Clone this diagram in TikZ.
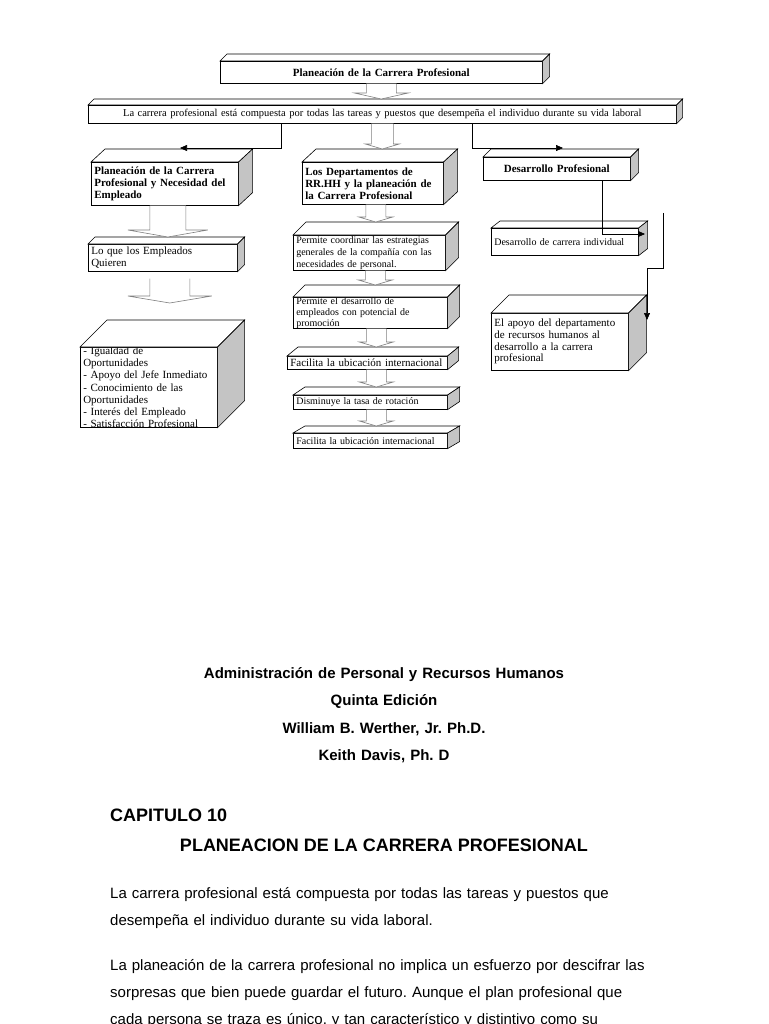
\documentclass[tikz,border=0pt]{standalone}
\usepackage{fontspec}
\setmainfont{Liberation Serif}
\newfontfamily\arial{Liberation Sans}
\frenchspacing
\usepackage{xcolor}
\definecolor{ladogris}{RGB}{196,196,196}
\definecolor{trazogris}{RGB}{128,128,128}
\usepackage{tikz}
\usetikzlibrary{arrows.meta,positioning,calc}

% caras de la caja en relieve: #1 nodo, #2 fondo en x, #3 fondo en y
\newcommand{\volumen}[3]{%
  \filldraw[fill=white, line width=0.6pt] (#1.north west) -- ++(#2,-#3) -- ([shift={(#2,-#3)}]#1.north east) -- (#1.north east) -- cycle;
  \filldraw[fill=ladogris, line width=0.6pt] (#1.north east) -- ++(#2,-#3) -- ([shift={(#2,-#3)}]#1.south east) -- (#1.south east) -- cycle;
}
% flecha hueca: #1 salida, #2 punta, #3 medio cuerpo, #4 media cabeza, #5 largo cabeza
\newcommand{\flechahueca}[5]{%
  \draw[hueca] let \p1=(#1), \p2=(#2) in
    (\x1-#3,\y1) -- (\x1-#3,\y2+#5) -- (\x1-#4,\y2+#5) -- (\x1,\y2)
    -- (\x1+#4,\y2+#5) -- (\x1+#3,\y2+#5) -- (\x1+#3,\y1);
}

\begin{document}
\begin{tikzpicture}[x=1pt, y=-1pt,
    caja/.style={draw, fill=white, line width=0.6pt, anchor=north west, inner xsep=3pt, inner ysep=1pt, align=left, font=\fontsize{11}{12}\selectfont},
    hueca/.style={draw=trazogris, fill=white, line width=0.6pt},
    conector/.style={line width=0.6pt, -{Triangle[length=7pt,width=6pt]}}]
    \fill[white] (0,0) rectangle (768,1024);
    \useasboundingbox (0,0) rectangle (768,1024);

    % Cajas de arriba
    \node[caja, font=\fontsize{11}{12}\selectfont\bfseries, align=center, text width=316pt, minimum width=322pt, minimum height=22pt] (B1) at (220,61) {Planeación de la Carrera Profesional};
    \volumen{B1}{7}{7}
    \node[caja, font=\fontsize{10.5}{12}\selectfont, align=center, text width=582pt, minimum width=588pt, minimum height=18pt] (B2) at (88,105) {La carrera profesional está compuesta por todas las tareas y puestos que desempeña el individuo durante su vida laboral};
    \volumen{B2}{6}{6}

    % Columna izquierda
    \node[caja, font=\fontsize{11}{12}\selectfont\bfseries, text width=141pt, minimum width=147pt, minimum height=43pt] (L1) at (91,162) {Planeación de la Carrera\\Profesional y Necesidad del\\Empleado};
    \volumen{L1}{14}{13}
    \node[caja, text width=143pt, minimum width=149pt, minimum height=27pt] (L2) at (88,244) {Lo que los Empleados\\Quieren};
    \volumen{L2}{7}{7}
    \node[caja, font=\fontsize{11}{12.3}\selectfont, inner ysep=-3pt, text width=131pt, minimum width=137pt, minimum height=80pt] (L3) at (80,347) {- Igualdad de\\Oportunidades\\- Apoyo del Jefe Inmediato\\- Conocimiento de las\\Oportunidades\\- Interés del Empleado\\- Satisfacción Profesional};
    \volumen{L3}{27}{27}

    % Columna central
    \node[caja, font=\fontsize{11}{12}\selectfont\bfseries, text width=135pt, minimum width=141pt, minimum height=42pt] (C1) at (302,162) {Los Departamentos de\\RR.HH y la planeación de\\la Carrera Profesional};
    \volumen{C1}{14}{13}
    \node[caja, font=\fontsize{10}{12}\selectfont, text width=146pt, minimum width=152pt, minimum height=35pt] (C2) at (293,235) {Permite coordinar las estrategias\\generales de la compañía con las\\necesidades de personal.};
    \volumen{C2}{13}{13}
    \node[caja, font=\fontsize{10}{11}\selectfont, inner ysep=-2pt, text width=148pt, minimum width=154pt, minimum height=31pt] (C3) at (293,297) {Permite el desarrollo de\\empleados con potencial de\\promoción};
    \volumen{C3}{12}{12}
    \node[caja, text width=154pt, minimum width=160pt, minimum height=13pt] (C4) at (287,356) {Facilita la ubicación internacional};
    \volumen{C4}{11}{9}
    \node[caja, font=\fontsize{10}{12}\selectfont, text width=148pt, minimum width=154pt, minimum height=14pt] (C5) at (293,395) {Disminuye la tasa de rotación};
    \volumen{C5}{12}{8}
    \node[caja, font=\fontsize{10}{12}\selectfont, text width=148pt, minimum width=154pt, minimum height=15pt] (C6) at (293,433) {Facilita la ubicación internacional};
    \volumen{C6}{12}{7}

    % Columna derecha
    \node[caja, font=\fontsize{11}{12}\selectfont\bfseries, align=center, text width=141pt, minimum width=147pt, minimum height=23pt] (R1) at (483,157) {Desarrollo Profesional};
    \volumen{R1}{8}{8}
    \node[caja, font=\fontsize{10}{12}\selectfont, text width=141pt, minimum width=147pt, minimum height=27pt] (R2) at (491,228) {Desarrollo de carrera individual};
    \volumen{R2}{9}{7}
    \node[caja, font=\fontsize{11}{11.7}\selectfont, text width=131pt, minimum width=137pt, minimum height=57pt] (R3) at (491,313) {El apoyo del departamento\\de recursos humanos al\\desarrollo a la carrera\\profesional};
    \volumen{R3}{18}{18}

    % Flechas huecas
    \flechahueca{B1.south}{[yshift=6pt]B2.north}{15pt}{27pt}{6pt}
    \flechahueca{B2.south}{[yshift=13pt]C1.north}{11pt}{17pt}{5pt}
    \flechahueca{[xshift=3pt]L1.south}{[yshift=7pt]L2.north}{18pt}{40pt}{7pt}
    \flechahueca{[xshift=7pt,yshift=-7pt]L2.south}{[yshift=44pt]L3.north}{20pt}{42pt}{7pt}
    \flechahueca{[xshift=3pt]C1.south}{[yshift=13pt]C2.north}{10pt}{17pt}{5pt}
    \flechahueca{[xshift=6pt]C2.south}{[yshift=12pt]C3.north}{10pt}{17pt}{5pt}
    \flechahueca{[xshift=6pt]C3.south}{[yshift=9pt]C4.north}{10pt}{17pt}{5pt}
    \flechahueca{[xshift=9pt]C4.south}{[yshift=8pt]C5.north}{10pt}{17pt}{5pt}
    \flechahueca{[xshift=6pt]C5.south}{[yshift=7pt]C6.north}{10pt}{17pt}{5pt}

    % Conectores
    \coordinate (puntaL1) at (180,148);
    \coordinate (puntaR1) at (563,148);
    \coordinate (puntaR2) at (645,234);
    \coordinate (inicioR3) at (663,213);
    \coordinate (puntaR3) at (647,320);
    \draw[conector] ([xshift=-101pt]B2.south) |- (puntaL1);
    \draw[conector] ([xshift=90pt]B2.south) |- (puntaR1);
    \draw[conector] ([xshift=45.5pt]R1.south) |- (puntaR2);
    \draw[conector] (inicioR3) -- ++(0,55) -| (puntaR3);

    % Texto de la pagina
    \node[font=\arial\bfseries\fontsize{15}{27.5}\selectfont, align=center, text width=500pt] (libro) at (384,715) {Administración de Personal y Recursos Humanos\\Quinta Edición\\William B. Werther, Jr. Ph.D.\\Keith Davis, Ph. D};
    \node[font=\arial\bfseries\fontsize{18}{20}\selectfont, anchor=west, inner sep=0pt] (capitulo) at (110,815) {CAPITULO 10};
    \node[font=\arial\bfseries\fontsize{18}{20}\selectfont] (tituloCap) at (384,845) {PLANEACION DE LA CARRERA PROFESIONAL};
    \node[font=\arial\fontsize{15}{27}\selectfont, anchor=north west, align=left, text width=600pt, inner sep=0pt] (parrafoA) at (110,887) {La carrera profesional está compuesta por todas las tareas y puestos que\\desempeña el individuo durante su vida laboral.};
    \node[font=\arial\fontsize{15}{27}\selectfont, anchor=north west, align=left, text width=600pt, inner sep=0pt] (parrafoB) at (110,959) {La planeación de la carrera profesional no implica un esfuerzo por descifrar las\\sorpresas que bien puede guardar el futuro. Aunque el plan profesional que\\cada persona se traza es único, y tan característico y distintivo como su};
\end{tikzpicture}
\end{document}
